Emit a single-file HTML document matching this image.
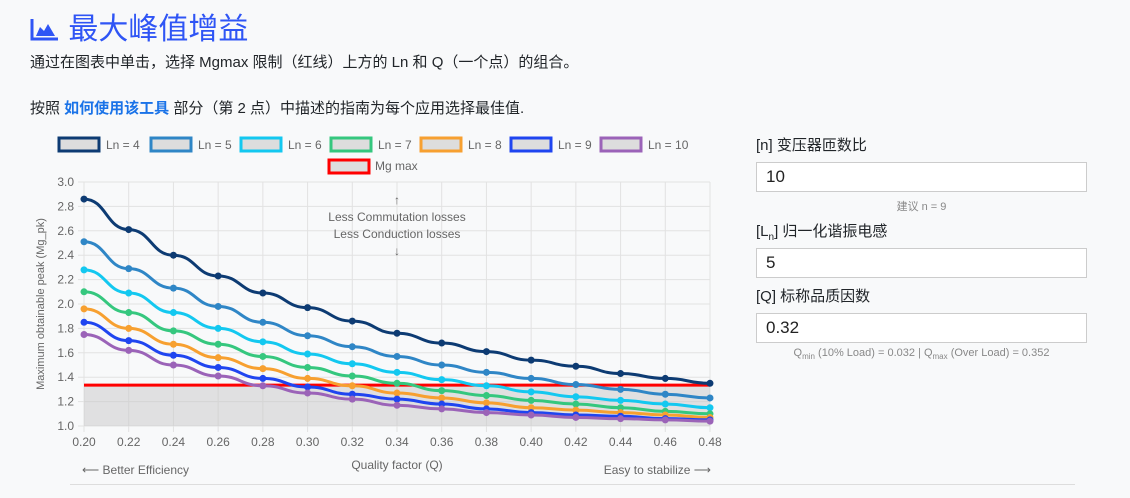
<!DOCTYPE html>
<html><head><meta charset="utf-8"><style>
body{margin:0;width:1130px;height:498px;background:#f8f9fa;font-family:"Liberation Sans","Noto Sans CJK SC",sans-serif;position:relative;overflow:hidden;color:#212529}
.abs{position:absolute}
.lbl{font-size:15px;color:#212529}
.inp{position:absolute;left:756px;width:331px;height:30px;border:1px solid #ccc;background:#fff;box-sizing:border-box;font-size:17px;padding:6px 9px;color:#222}
.hint{font-size:11px;color:#888;text-align:center}
</style></head><body>
<div class="abs" style="left:30px;top:4px;font-size:30px;color:#2f55f5;">
<svg width="30" height="26" viewBox="0 0 30 26" style="vertical-align:-2px"><path d="M2 4V24H28" stroke="#2f55f5" stroke-width="3" fill="none"/><path d="M6 21L10 12L14 16L18 9L25 21Z" fill="#2f55f5"/></svg> 最大峰值增益</div>
<div class="abs" style="left:30px;top:51px;font-size:15px">通过在图表中单击，选择 Mgmax 限制（红线）上方的 Ln 和 Q（一个点）的组合。</div>
<div class="abs" style="left:30px;top:97px;font-size:15px">按照 <b style="color:#1a73e8">如何使用该工具</b> 部分（第 2 点）中描述的指南为每个应用选择最佳值.</div>

<svg id="chart" class="abs" style="left:0;top:125px" width="740" height="360"></svg>
<div class="abs" style="left:70px;top:484px;width:1005px;height:1px;background:#ddd"></div>

<div class="abs lbl" style="left:756px;top:134px">[n] 变压器匝数比</div>
<input class="inp" style="top:162px" value="10">
<div class="abs hint" style="left:756px;width:331px;top:198px">建议 n = 9</div>
<div class="abs lbl" style="left:756px;top:220px">[L<sub style="font-size:10px">n</sub>] 归一化谐振电感</div>
<input class="inp" style="top:248px" value="5">
<div class="abs lbl" style="left:756px;top:285px">[Q] 标称品质因数</div>
<input class="inp" style="top:313px" value="0.32">
<div class="abs hint" style="left:756px;width:331px;top:347px">Q<sub style="font-size:8px">min</sub> (10% Load) = 0.032 | Q<sub style="font-size:8px">max</sub> (Over Load) = 0.352</div>

<script>
const qValues=[0.20,0.22,0.24,0.26,0.28,0.30,0.32,0.34,0.36,0.38,0.40,0.42,0.44,0.46,0.48];
const seriesNames=["Ln = 4","Ln = 5","Ln = 6","Ln = 7","Ln = 8","Ln = 9","Ln = 10"];
const ln4=[2.86,2.61,2.40,2.23,2.09,1.97,1.86,1.76,1.68,1.61,1.54,1.49,1.43,1.39,1.35];
const ln5=[2.51,2.29,2.13,1.98,1.85,1.74,1.65,1.57,1.50,1.44,1.39,1.34,1.30,1.26,1.23];
const ln6=[2.28,2.09,1.93,1.80,1.69,1.59,1.51,1.44,1.38,1.33,1.28,1.24,1.21,1.18,1.15];
const ln7=[2.10,1.93,1.78,1.67,1.57,1.48,1.41,1.35,1.29,1.25,1.21,1.18,1.15,1.12,1.10];
const ln8=[1.96,1.80,1.67,1.56,1.47,1.39,1.33,1.27,1.23,1.19,1.15,1.13,1.11,1.09,1.07];
const ln9=[1.85,1.70,1.58,1.48,1.39,1.32,1.26,1.22,1.18,1.14,1.11,1.09,1.08,1.06,1.05];
const ln10=[1.75,1.62,1.50,1.41,1.33,1.27,1.22,1.17,1.14,1.11,1.09,1.07,1.06,1.05,1.04];
const mgMax=1.335;
const yTicks=[1.0,1.2,1.4,1.6,1.8,2.0,2.2,2.4,2.6,2.8,3.0];
const colors=["#0d3b73","#2f86c6","#13c8f0","#35c77e","#f7a030","#1f45f0","#9b63b8"];
const svg=document.getElementById('chart');
const NS="http://www.w3.org/2000/svg";
const X0=84,X1=710,Y0=301,Y1=57; // within svg (top offset 125)
const xs=q=>X0+(q-0.20)/(0.48-0.20)*(X1-X0);
const ys=v=>Y0-(v-1.0)/(3.0-1.0)*(Y0-Y1);
function mk(tag,attrs,parent){const e=document.createElementNS(NS,tag);for(const k in attrs)e.setAttribute(k,attrs[k]);(parent||svg).appendChild(e);return e;}
function txt(x,y,s,attrs){const t=mk('text',Object.assign({x:x,y:y,'font-size':12,fill:'#666','font-family':'Liberation Sans, sans-serif'},attrs||{}));t.textContent=s;return t;}
// grid
yTicks.forEach(v=>{const l=mk('line',{x1:X0-6,x2:X1,y1:ys(v),y2:ys(v),stroke:'#e2e2e2'});


const t=txt(X0-10,ys(v)+4,v.toFixed(1),{'text-anchor':'end'});

});
qValues.forEach(q=>{const l=mk('line',{x1:xs(q),x2:xs(q),y1:Y1,y2:Y0+6,stroke:'#e2e2e2'});


const t=txt(xs(q),Y0+20,q.toFixed(2),{'text-anchor':'middle'});

});
// fill below mg max
const fr=mk('rect',{x:X0,y:ys(mgMax),width:X1-X0,height:Y0-ys(mgMax),fill:'rgba(200,200,200,0.5)'});


const ml=mk('line',{x1:X0,x2:X1,y1:ys(mgMax),y2:ys(mgMax),stroke:'#f00','stroke-width':3});


// series
[ln4,ln5,ln6,ln7,ln8,ln9,ln10].forEach((arr,i)=>{
 const g=mk('g',{});
 
 
 let d="";
 arr.forEach((v,j)=>{const x=xs(qValues[j]),y=ys(v);
  if(j===0)d="M"+x+" "+y;else{const xp=xs(qValues[j-1]),yp=ys(arr[j-1]);const cx=(xp+x)/2;d+=" C"+cx+" "+yp+" "+cx+" "+y+" "+x+" "+y;}});
 mk('path',{d:d,fill:'none',stroke:colors[i],'stroke-width':3},g);
 arr.forEach((v,j)=>{const c=mk('circle',{cx:xs(qValues[j]),cy:ys(v),r:3.5,fill:colors[i]},g);
  
  });
});
// legend
const lx=[58,150,240,330,420,510,600];
seriesNames.forEach((n,i)=>{const g=mk('g',{});
 
 
 mk('rect',{x:lx[i]+1,y:13,width:40,height:13,fill:'#ddd',stroke:colors[i],'stroke-width':3},g);
 const t=txt(lx[i]+48,24,n);g.appendChild(t);});
const lg=mk('g',{});


mk('rect',{x:329,y:35,width:40,height:13,fill:'#ddd',stroke:'#f00','stroke-width':3},lg);
lg.appendChild(txt(375,45,'Mg max'));
// axis titles & annotations
const yt=txt(0,0,'Maximum obtainable peak (Mg_pk)',{transform:'translate(44,'+((Y0+Y1)/2)+') rotate(-90)','text-anchor':'middle','font-size':11});


const xt=txt((X0+X1)/2,344,'Quality factor (Q)',{'text-anchor':'middle'});


const a1=txt(82,349,'⟵ Better Efficiency');


const a2=txt(711,349,'Easy to stabilize ⟶',{'text-anchor':'end'});


const ax=xs(0.34);
[['↑',79],['Less Commutation losses',96],['Less Conduction losses',113],['↓',130]].forEach(p=>{const t=txt(ax,p[1],p[0],{'text-anchor':'middle'});
 
 });
</script>
</body></html>
